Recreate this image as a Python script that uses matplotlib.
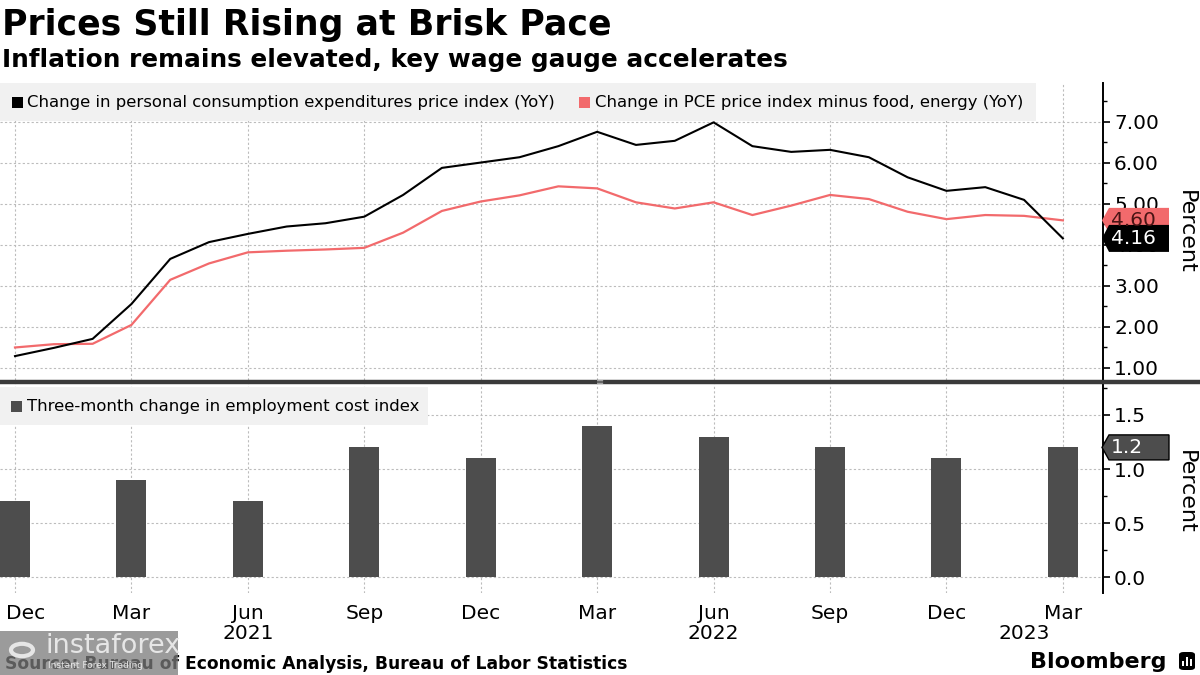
import matplotlib
matplotlib.use("Agg")
import matplotlib.pyplot as plt
from matplotlib.patches import Rectangle, Polygon, FancyBboxPatch
from matplotlib.transforms import ScaledTranslation
import numpy as np

# ---------------- data ----------------
month_labels = ["Dec 2020", "Jan 2021", "Feb 2021", "Mar 2021", "Apr 2021", "May 2021",
                "Jun 2021", "Jul 2021", "Aug 2021", "Sep 2021", "Oct 2021", "Nov 2021",
                "Dec 2021", "Jan 2022", "Feb 2022", "Mar 2022", "Apr 2022", "May 2022",
                "Jun 2022", "Jul 2022", "Aug 2022", "Sep 2022", "Oct 2022", "Nov 2022",
                "Dec 2022", "Jan 2023", "Feb 2023", "Mar 2023"]
pce = [1.29, 1.49, 1.71, 2.56, 3.66, 4.07, 4.27, 4.45, 4.53, 4.69, 5.22, 5.88,
       6.01, 6.14, 6.41, 6.76, 6.44, 6.54, 6.99, 6.41, 6.27, 6.32, 6.14, 5.65,
       5.32, 5.41, 5.10, 4.16]
core_pce = [1.50, 1.58, 1.59, 2.05, 3.15, 3.55, 3.82, 3.86, 3.89, 3.93, 4.30, 4.83,
            5.06, 5.21, 5.43, 5.38, 5.04, 4.89, 5.04, 4.73, 4.96, 5.22, 5.12, 4.81,
            4.63, 4.73, 4.71, 4.60]
eci_quarters = ["Dec 2020", "Mar 2021", "Jun 2021", "Sep 2021", "Dec 2021",
                "Mar 2022", "Jun 2022", "Sep 2022", "Dec 2022", "Mar 2023"]
eci = [0.7, 0.9, 0.7, 1.2, 1.1, 1.4, 1.3, 1.2, 1.1, 1.2]
quarter_tick_labels = ["Dec", "Mar", "Jun", "Sep", "Dec", "Mar", "Jun", "Sep", "Dec", "Mar"]
year_labels = [("2021", "Jun 2021"), ("2022", "Jun 2022"), ("2023", "Feb 2023")]

title = "Prices Still Rising at Brisk Pace"
subtitle = "Inflation remains elevated, key wage gauge accelerates"
leg1 = "Change in personal consumption expenditures price index (YoY)"
leg2 = "Change in PCE price index minus food, energy (YoY)"
leg3 = "Three-month change in employment cost index"
source = "Source: Bureau of Economic Analysis, Bureau of Labor Statistics"

# ---------------- style ----------------
BLACK = "#000000"
RED = "#f26a6c"
BAR = "#4d4d4d"
GRID = "#bcbcbc"
LEGBG = "#f1f1f1"
W, H = 1200, 675
plt.rcParams["font.family"] = ["DejaVu Sans"]

fig = plt.figure(figsize=(W / 100, H / 100), dpi=100)
fig.patch.set_facecolor("white")

def fx(x):
    return x / W

def fy(y):
    return 1 - y / H

x_idx = np.arange(len(month_labels))
pos = {m: i for i, m in enumerate(month_labels)}
xq = [pos[q] for q in eci_quarters]

px_per_month = 38.81
xlim = (-15 / px_per_month, (1103 - 15) / px_per_month)

ax1 = fig.add_axes([0, fy(380), fx(1103), (380 - 83) / H])
ax2 = fig.add_axes([0, fy(593), fx(1103), (593 - 384) / H])

for ax in (ax1, ax2):
    ax.set_facecolor("white")
    for s in ("top", "left", "bottom"):
        ax.spines[s].set_visible(False)
    ax.spines["right"].set_linewidth(1.4)
    ax.yaxis.tick_right()
    ax.set_xlim(*xlim)
    ax.set_xticks(xq)
    ax.grid(True, which="major", color=GRID, linestyle=(0, (2, 2)), linewidth=0.8)
    ax.set_axisbelow(True)
    ax.tick_params(axis="y", which="major", direction="out", length=5, width=1.2,
                   labelsize=14.5, pad=3, colors="black")
    ax.tick_params(axis="y", which="minor", direction="out", length=3, width=1.0)
    ax.tick_params(axis="x", length=0)

# top panel
ax1.plot(x_idx, core_pce, color=RED, lw=1.6, zorder=3)
ax1.plot(x_idx, pce, color=BLACK, lw=1.5, zorder=4)
ax1.set_ylim(0.707, 7.95)
ax1.set_yticks([1, 2, 3, 4, 5, 6, 7])
ax1.set_yticklabels([f"{v:.2f}" for v in [1, 2, 3, 4, 5, 6, 7]])
ax1.set_yticks(np.arange(1.5, 8.0, 1.0), minor=True)
ax1.set_xticklabels([])

# bottom panel
ax2.bar(xq, eci, width=0.77, color=BAR, zorder=3)
ax2.set_ylim(-0.148, 1.787)
ax2.set_yticks([0.0, 0.5, 1.0, 1.5])
ax2.set_yticklabels(["0.0", "0.5", "1.0", "1.5"])
ax2.set_yticks([0.25, 0.75, 1.25, 1.75], minor=True)
ax2.set_xticklabels(quarter_tick_labels, fontsize=14.5)
ax2.tick_params(axis="x", pad=8)
lbls = ax2.get_xticklabels()
lbls[0].set_transform(lbls[0].get_transform() + ScaledTranslation(11 / 100, 0, fig.dpi_scale_trans))
for txt, m in year_labels:
    ax2.text(pos[m], -0.196, txt, transform=ax2.get_xaxis_transform(), ha="center",
             va="center", fontsize=14.5)

# ---------------- legends ----------------
fig.add_artist(Rectangle((0, fy(121)), fx(1036), (121 - 83) / H, transform=fig.transFigure,
                         facecolor=LEGBG, edgecolor="none", zorder=1))
fig.add_artist(Rectangle((fx(12), fy(108)), fx(11), 11 / H, transform=fig.transFigure,
                         facecolor=BLACK, edgecolor="none", zorder=2))
fig.text(fx(27), fy(102), leg1, fontsize=11.85, va="center", ha="left", zorder=3)
fig.add_artist(Rectangle((fx(579), fy(108)), fx(11), 11 / H, transform=fig.transFigure,
                         facecolor=RED, edgecolor="none", zorder=2))
fig.text(fx(595), fy(102), leg2, fontsize=11.85, va="center", ha="left", zorder=3)

fig.add_artist(Rectangle((0, fy(425)), fx(428), (425 - 387) / H, transform=fig.transFigure,
                         facecolor=LEGBG, edgecolor="none", zorder=1))
fig.add_artist(Rectangle((fx(11), fy(412)), fx(11), 11 / H, transform=fig.transFigure,
                         facecolor=BAR, edgecolor="none", zorder=2))
fig.text(fx(27), fy(407), leg3, fontsize=11.85, va="center", ha="left", zorder=3)

# ---------------- value tags ----------------
def tag(ax, val, text, fc, tc, ec="none", h=25):
    ydisp = ax.transData.transform((0, val))[1]
    y = H - ydisp  # pixel from top
    tip, notch, right = 1102, 1109, 1169
    pts = [(tip, y), (notch, y - h / 2), (right, y - h / 2), (right, y + h / 2), (notch, y + h / 2)]
    pts = [(fx(a), fy(b)) for a, b in pts]
    fig.add_artist(Polygon(pts, closed=True, transform=fig.transFigure, facecolor=fc,
                           edgecolor=ec, linewidth=1.0, zorder=5))
    fig.text(fx(1111), fy(y), text, fontsize=14.5, color=tc, ha="left", va="center", zorder=6)

tag(ax1, core_pce[-1], f"{core_pce[-1]:.2f}", RED, "#4a1414")
tag(ax1, pce[-1], f"{pce[-1]:.2f}", BLACK, "white", h=27)
tag(ax2, eci[-1], f"{eci[-1]:.1f}", BAR, "white", ec="black", h=25)

fig.text(fx(1186), fy(232), "Percent", rotation=270, fontsize=16, ha="center", va="center")
fig.text(fx(1186), fy(492), "Percent", rotation=270, fontsize=16, ha="center", va="center")

# separator between panels
fig.add_artist(plt.Line2D([0, 1], [fy(382), fy(382)], transform=fig.transFigure,
                          color="#3a3a3a", lw=3.2, zorder=4))
fig.text(fx(600), fy(382), "\u2261", fontsize=7, color="#bbbbbb", ha="center", va="center", zorder=5)

# ---------------- titles ----------------
fig.text(fx(2), fy(35), title, fontsize=25, fontweight="bold", ha="left", va="baseline")
fig.text(fx(2), fy(67), subtitle, fontsize=17.8, fontweight="bold", ha="left", va="baseline")

# ---------------- footer ----------------
fig.text(fx(5), fy(669), source, fontsize=12.3, fontweight="bold", ha="left", va="baseline")
fig.text(fx(1166), fy(668), "Bloomberg", fontsize=16, fontweight="bold", ha="right", va="baseline")
fig.add_artist(FancyBboxPatch((fx(1179), fy(670)), fx(16), 18 / H, boxstyle="round,pad=0,rounding_size=0.004",
                              transform=fig.transFigure, facecolor="black", edgecolor="none", zorder=3))
for i, hh in enumerate([5, 9, 7]):
    fig.add_artist(Rectangle((fx(1182 + i * 4), fy(666)), fx(2), hh / H, transform=fig.transFigure,
                             facecolor="white", edgecolor="none", zorder=4))

# watermark overlay
fig.add_artist(Rectangle((0, fy(675)), fx(178), 44 / H, transform=fig.transFigure,
                         facecolor="#7a7a7a", alpha=0.75, edgecolor="none", zorder=7))
fig.text(fx(46), fy(646), "instaforex", fontsize=19.5, color="#e6e6e6", ha="left", va="center", zorder=8)
fig.text(fx(48), fy(666), "Instant Forex Trading", fontsize=6.5, color="#e6e6e6", ha="left", va="center", zorder=8)
fig.add_artist(plt.Circle((fx(22), fy(650)), 11 / W, transform=fig.transFigure, facecolor="none",
                          edgecolor="#e6e6e6", lw=3, zorder=8))

fig.savefig("out.png", dpi=100, facecolor="white")
